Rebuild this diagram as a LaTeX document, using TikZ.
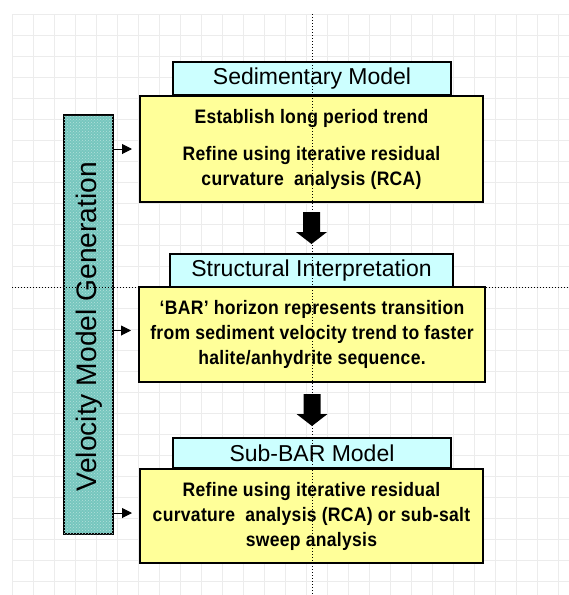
\documentclass[tikz,border=0pt]{standalone}
\usepackage{fontspec}
\setmainfont{Liberation Sans}
\newfontfamily\bodyfont[FakeStretch=0.9, LetterSpace=1.5]{Liberation Sans}
\usetikzlibrary{calc,arrows.meta,patterns}
\definecolor{titlecyan}{RGB}{204,255,255}
\definecolor{boxyellow}{RGB}{255,255,153}
\definecolor{barteal}{RGB}{118,198,190}
\definecolor{gridgray}{RGB}{236,236,236}
\tikzset{
  x=1pt, y=-1pt,
  titlebox/.style={draw=black, line width=2pt, fill=titlecyan, inner sep=0pt,
    font=\fontsize{23}{26}\selectfont},
  mainbox/.style={draw=black, line width=2pt, fill=boxyellow, inner sep=0pt, align=center,
    font=\bodyfont\bfseries\fontsize{19.5}{25}\selectfont},
  sidebar/.style={draw=black, line width=2pt, fill=barteal, inner sep=0pt,
    postaction={pattern=crosshatch dots, pattern color=barteal!55!white}},
  sidearrow/.style={line width=1pt, -{Triangle[length=10pt,width=10pt]}, shorten >=7pt},
  fatarrow/.style={fill=black},
  gridline/.style={gridgray, line width=0.6pt},
  dotline/.style={black, line width=0.9pt, dash pattern=on 0.9pt off 2.1pt}
}
\begin{document}
\begin{tikzpicture}
\useasboundingbox (0,0) rectangle (569,595);
\fill[white] (0,0) rectangle (569,595);
% background grid
\foreach \gx in {12,33,...,569} \draw[gridline] (\gx,14) -- (\gx,595);
\foreach \gy in {14,35,...,595} \draw[gridline] (12,\gy) -- (569,\gy);

% side bar
\node[sidebar, minimum width=49pt, minimum height=419pt] (bar) at (88.5,324.5) {};
\node[rotate=90, font=\fontsize{28.2}{30}\selectfont] (bartext) at (89,326.5) {Velocity Model Generation};

% stage 1
\node[titlebox, minimum width=278pt, minimum height=33pt] (t1) at (312,78.5) {Sedimentary Model};
\node[mainbox, minimum width=343pt, minimum height=106pt] (b1) at (311.5,149)
  {\fontsize{19.5}{27}\selectfont Establish long period trend\\[12pt]
   Refine using iterative residual\\ curvature~ analysis (RCA)};

% stage 2
\node[titlebox, minimum width=283pt, minimum height=33pt] (t2) at (311.5,270.5) {Structural Interpretation};
\node[mainbox, minimum width=346pt, minimum height=95pt] (b2) at (312,334.5)
  {‘BAR’ horizon represents transition\\ from sediment velocity trend to faster\\ halite/anhydrite sequence.};

% stage 3
\node[titlebox, minimum width=278pt, minimum height=30pt] (t3) at (312,453) {Sub-BAR Model};
\node[mainbox, minimum width=343pt, minimum height=94pt] (b3) at (311.5,516)
  {Refine using iterative residual\\ curvature~ analysis (RCA) or sub-salt\\ sweep analysis};

% fat down arrows
\coordinate (a1top) at ($(b1.south)+(0,9)$);
\coordinate (a1tip) at ($(t2.north)+(0,-9)$);
\fill[fatarrow] ($(a1top)+(-8.5,0)$) -- ($(a1top)+(8.5,0)$) -- ($(a1tip)+(8.5,-12)$)
  -- ($(a1tip)+(15.5,-12)$) -- (a1tip) -- ($(a1tip)+(-15.5,-12)$) -- ($(a1tip)+(-8.5,-12)$) -- cycle;
\coordinate (a2top) at ($(b2.south)+(0,11)$);
\coordinate (a2tip) at ($(t3.north)+(0,-11)$);
\fill[fatarrow] ($(a2top)+(-8.5,0)$) -- ($(a2top)+(8.5,0)$) -- ($(a2tip)+(8.5,-12)$)
  -- ($(a2tip)+(15.5,-12)$) -- (a2tip) -- ($(a2tip)+(-15.5,-12)$) -- ($(a2tip)+(-8.5,-12)$) -- cycle;

% side arrows
\draw[sidearrow] (bar.east |- b1.west) -- (b1.west);
\draw[sidearrow] ($(bar.east |- b2.west)+(0,-4)$) -- ($(b2.west)+(0,-4)$);
\draw[sidearrow] ($(bar.east |- b3.west)+(0,-3)$) -- ($(b3.west)+(0,-3)$);

% dotted guide lines
\draw[dotline] (312,14) -- (312,595);
\draw[dotline] (12,287) -- (569,287);
\end{tikzpicture}
\end{document}
